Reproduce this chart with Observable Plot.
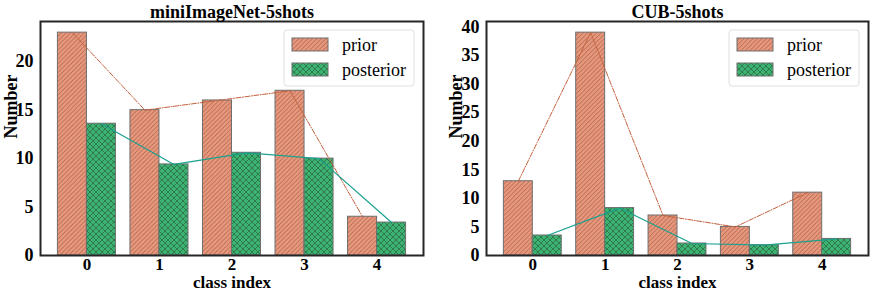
<!DOCTYPE html>
<html>
<head>
<meta charset="utf-8">
<script src="https://cdn.jsdelivr.net/npm/d3@7"></script>
<script src="https://cdn.jsdelivr.net/npm/@observablehq/plot@0.6"></script>
<style>
  html, body { margin: 0; padding: 0; background: #fff; }
  #wrap { display: flex; width: 872px; height: 291px; }
</style>
</head>
<body>
<div id="wrap"></div>
<script>
const classes = [0, 1, 2, 3, 4];
const xTicks = [0, 1, 2, 3, 4];
const seriesNames = ["prior", "posterior"];

const miniTitle = "miniImageNet-5shots";
const miniPrior = [23, 15, 16, 17, 4];
const miniPosterior = [13.6, 9.4, 10.6, 10.0, 3.4];
const miniYTicks = [0, 5, 10, 15, 20];

const cubTitle = "CUB-5shots";
const cubPrior = [13, 39, 7, 5, 11];
const cubPosterior = [3.5, 8.3, 2.1, 1.8, 2.9];
const cubYTicks = [0, 5, 10, 15, 20, 25, 30, 35, 40];

const xLabel = "class index";
const yLabel = "Number";

const PRIOR_FILL = "#e9967a";
const POST_FILL = "#3cb371";
const PRIOR_LINE = "#c2613c";
const POST_LINE = "#1aa08e";
const FONT = "Liberation Serif, Times New Roman, serif";

function defsFor(svg, id) {
  const defs = d3.select(svg).insert("defs", ":first-child");
  const a = 4.5;
  const p1 = defs.append("pattern").attr("id", id + "-hatch").attr("patternUnits", "userSpaceOnUse")
    .attr("width", a).attr("height", a);
  p1.append("path").attr("d", `M-1,1 L1,-1 M0,${a} L${a},0 M${a - 1},${a + 1} L${a + 1},${a - 1}`)
    .attr("stroke", "#5a3a30").attr("stroke-width", 0.6).attr("stroke-opacity", 0.75);
  const b = 6;
  const p2 = defs.append("pattern").attr("id", id + "-cross").attr("patternUnits", "userSpaceOnUse")
    .attr("width", b).attr("height", b);
  p2.append("path").attr("d", `M-1,1 L1,-1 M0,${b} L${b},0 M${b - 1},${b + 1} L${b + 1},${b - 1} M-1,${b - 1} L1,${b + 1} M0,0 L${b},${b} M${b - 1},-1 L${b + 1},1`)
    .attr("stroke", "#1f3d2a").attr("stroke-width", 0.6).attr("stroke-opacity", 0.8);
}

function panel({id, title, prior, posterior, yTicks, width, marginLeft, marginRight, yLabelDx}) {
  const rows = [];
  classes.forEach((c, i) => {
    rows.push({series: "prior", c, v: prior[i], x1: c - 0.4, x2: c, xm: c - 0.2});
    rows.push({series: "posterior", c, v: posterior[i], x1: c, x2: c + 0.4, xm: c + 0.2});
  });
  const priorRows = rows.filter(d => d.series === "prior");
  const postRows = rows.filter(d => d.series === "posterior");
  const ymax = d3.max(rows, d => d.v) * 1.05;
  const marginTop = 21, marginBottom = 36;

  const svg = Plot.plot({
    width, height: 291,
    marginTop, marginBottom, marginLeft, marginRight,
    style: {fontFamily: FONT, fontSize: "18px", background: "white", overflow: "visible"},
    x: {domain: [-0.64, 4.64], ticks: xTicks},
    y: {domain: [0, ymax], ticks: yTicks},
    marks: [
      Plot.rectY(priorRows, {x1: "x1", x2: "x2", y: "v", fill: PRIOR_FILL}),
      Plot.rectY(priorRows, {x1: "x1", x2: "x2", y: "v", fill: `url(#${id}-hatch)`, stroke: "#6e6e6e", strokeWidth: 1}),
      Plot.rectY(postRows, {x1: "x1", x2: "x2", y: "v", fill: POST_FILL}),
      Plot.rectY(postRows, {x1: "x1", x2: "x2", y: "v", fill: `url(#${id}-cross)`, stroke: "#6e6e6e", strokeWidth: 1}),
      Plot.line(priorRows, {x: "xm", y: "v", stroke: PRIOR_LINE, strokeWidth: 1, strokeDasharray: "5,1.5,1,1.5"}),
      Plot.line(postRows, {x: "xm", y: "v", stroke: POST_LINE, strokeWidth: 1.2}),
      Plot.axisX({ticks: xTicks, tickFormat: d3.format("d"), tickSize: 0, tickPadding: 2, label: null, fontWeight: "bold", fontSize: 17, fontFamily: FONT}),
      Plot.axisY({ticks: yTicks, tickFormat: d3.format("d"), tickSize: 0, tickPadding: 7, label: null, fontWeight: "bold", fontSize: 18, fontFamily: FONT}),
      Plot.frame({stroke: "#262626", strokeWidth: 2}),
      Plot.text([title], {frameAnchor: "top", dy: -9, lineAnchor: "middle", fontWeight: "bold", fontSize: 18, fontFamily: FONT, fill: "#000"}),
      Plot.text([xLabel], {frameAnchor: "bottom", dy: 27.5, lineAnchor: "middle", fontWeight: "bold", fontSize: 17, fontFamily: FONT, fill: "#000"}),
      Plot.text([yLabel], {frameAnchor: "left", rotate: -90, dx: yLabelDx, fontWeight: "bold", fontSize: 18, fontFamily: FONT, fill: "#000"})
    ]
  });
  defsFor(svg, id);

  // legend (inside the frame, upper right)
  const s = d3.select(svg);
  const boxW = 130, boxH = 56;
  const bx = width - marginRight - 9 - boxW, by = marginTop + 9;
  const g = s.append("g").attr("font-family", FONT).attr("font-size", 18).attr("text-anchor", "start");
  g.append("rect").attr("x", bx).attr("y", by).attr("width", boxW).attr("height", boxH)
    .attr("rx", 3).attr("fill", "white").attr("fill-opacity", 0.85).attr("stroke", "#e0e0e0");
  const fills = [[PRIOR_FILL, `url(#${id}-hatch)`], [POST_FILL, `url(#${id}-cross)`]];
  seriesNames.forEach((name, i) => {
    const y = by + 8 + i * 25;
    g.append("rect").attr("x", bx + 8).attr("y", y).attr("width", 36).attr("height", 13).attr("fill", fills[i][0]);
    g.append("rect").attr("x", bx + 8).attr("y", y).attr("width", 36).attr("height", 13).attr("fill", fills[i][1])
      .attr("stroke", "#6e6e6e").attr("stroke-width", 1);
    g.append("text").attr("x", bx + 58).attr("y", y + 6.5).attr("dy", "0.35em").attr("fill", "#000").text(name);
  });
  return svg;
}

const wrap = document.getElementById("wrap");
wrap.appendChild(panel({id: "mini", title: miniTitle, prior: miniPrior, posterior: miniPosterior, yTicks: miniYTicks,
  width: 436, marginLeft: 40, marginRight: 13, yLabelDx: -29}));
wrap.appendChild(panel({id: "cub", title: cubTitle, prior: cubPrior, posterior: cubPosterior, yTicks: cubYTicks,
  width: 436, marginLeft: 50, marginRight: 4, yLabelDx: -30}));
</script>
</body>
</html>
